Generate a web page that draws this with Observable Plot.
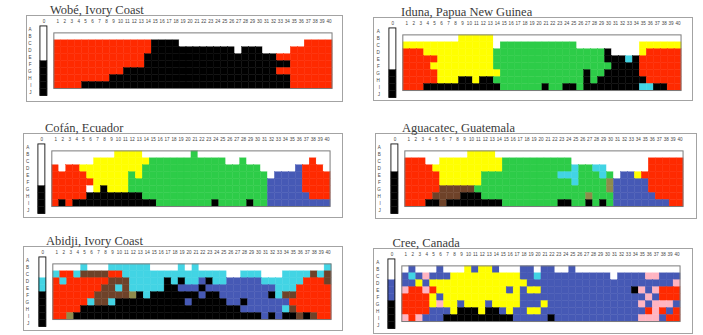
<!DOCTYPE html>
<html>
<head>
<meta charset="utf-8">
<script src="https://cdn.jsdelivr.net/npm/d3@7"></script>
<script src="https://cdn.jsdelivr.net/npm/@observablehq/plot@0.6"></script>
<style>
  body { margin: 0; background: #fff; }
  #chart { position: relative; width: 703px; height: 335px; overflow: hidden; background: #fff; }
  .box { position: absolute; box-sizing: border-box; border: 1px solid #a3a3a3; }
  .box svg { position: absolute; left: -1px; top: -1px; overflow: visible; }
  .title { position: absolute; font-family: "Liberation Serif", "Times New Roman", serif; font-size: 12.5px;
           line-height: 12.5px; color: #3a3a3a; white-space: nowrap; }
</style>
</head>
<body>
<div id="chart"></div>
<script>
// Munsell array: rows A–J, columns 0 (achromatic) and 1–40 (hue columns).
const rowLetters = ["A", "B", "C", "D", "E", "F", "G", "H", "I", "J"];
const hueColumns = ["1","2","3","4","5","6","7","8","9","10","11","12","13","14","15","16","17","18","19","20",
                    "21","22","23","24","25","26","27","28","29","30","31","32","33","34","35","36","37","38","39","40"];

// Category codes: W white, K black, R red, Y yellow, G green, B blue, C cyan (grue), N brown, O olive, P pink.
// Each chromatic row (B..I) is run-length encoded over the 40 hue columns.
const wobeTitle = "Wobé, Ivory Coast";
const wobeRows = ["40W", "14R 4K 18W 4R", "14R 12K 1W 3K 4W 6R", "13R 19K 8R",
                  "13R 21K 6R", "10R 22K 8R", "8R 26K 6R", "4R 30K 6R"];
const wobeAchromatic = "5W 5K";

const idunaTitle = "Iduna, Papua New Guinea";
const idunaRows = ["8W 5Y 27W", "13Y 1W 11G 9W 6Y", "3R 10Y 16G 1K 4W 1Y 5R", "5R 8Y 16G 3K 1C 1K 6R",
                   "4R 9Y 17G 4K 6R", "5R 9Y 12G 1K 2G 5K 6R", "5R 3Y 2K 1Y 2K 13G 1K 1G 7K 5R",
                   "3R 11K 6G 1K 2G 2K 1G 8K 2C 2K 2R"];
const idunaAchromatic = "6W 4K";

const cofanTitle = "Cofán, Ecuador";
const cofanRows = ["9W 4Y 7W 1G 19W", "6W 8Y 11G 2W 1G 9W 1R 2W", "1R 1W 2R 9Y 17G 5W 1B 3R 1W",
                   "5R 6Y 1G 1Y 18G 1W 4B 4R", "6R 5Y 20G 5B 4R", "5R 1W 1Y 1K 3Y 20G 5B 4R",
                   "5R 8K 18G 6B 3R", "1R 1K 1R 12K 8G 1K 4G 1K 2G 9B"];
const cofanAchromatic = "6W 4K";

const aguacatecTitle = "Aguacatec, Guatemala";
const aguacatecRows = ["9W 4Y 27W", "3R 2W 9Y 10G 11W 5R", "4R 10Y 10G 1C 2G 2C 6W 5R",
                       "5R 6Y 11G 3C 3G 1C 1G 1W 2B 1Y 6R", "5R 6Y 13G 1C 4G 1O 5B 5R",
                       "5R 5N 19G 1O 5B 5R", "4R 4N 3K 15G 1O 3G 6B 4R",
                       "3R 2K 1N 8K 8G 2K 2G 1K 1G 1K 1G 8B 2R"];
const aguacatecAchromatic = "4W 6K";

const abidjiTitle = "Abidji, Ivory Coast";
const abidjiRows = ["4W 1C 3W 6C 4W 1C 1W 1C 18W 1C",
                    "1C 2R 1C 4N 2R 15C 2W 3C 3W 4C 1N 1C 1N",
                    "1R 1C 6R 3N 5C 1K 1C 1K 2C 1B 1K 2C 5B 6C 3R 1N",
                    "7R 2N 1C 1N 5C 2K 3B 1K 10B 3C 5R",
                    "6R 5N 1O 1K 1C 7K 1B 2K 7B 1K 1C 2N 5R",
                    "5R 1C 2N 1C 10K 1B 5K 2B 1K 6B 6R",
                    "4R 23K 6B 1C 1N 5R",
                    "2R 1O 27K 1B 1K 1B 2K 1N 1K 1N 2R"];
const abidjiAchromatic = "3W 2C 5K";

const creeTitle = "Cree, Canada";
const creeRows = ["1W 1B 3W 1B 3W 1Y 1B 2Y 1B 3W 2B 1W 2B 2W 1B 15W",
                  "1B 1C 1B 1P 3B 10Y 2B 1C 10B 1W 4B 2P 3B",
                  "2B 1Y 1B 14Y 21B 1P",
                  "1P 2R 1P 1R 10Y 1B 1Y 1B 2Y 13B 1K 1P 1B 1P 3R",
                  "4R 1Y 1B 11Y 18B 1P 1B 3R",
                  "4R 1Y 1P 2Y 1B 3Y 1B 4Y 3B 1Y 13B 1P 1B 3P 1B",
                  "4R 3B 1Y 3K 1Y 2K 1B 1Y 2B 2Y 15B 1R 1P 1R 1B 1R",
                  "1P 1R 1P 3B 10K 5B 1K 12B 3P 1B 2R"];
const creeAchromatic = "3W 3B 4K";

// Fill colour of each category code.
const palette = {W: "#ffffff", K: "#000000", R: "#ff2a00", Y: "#ffff00", G: "#2dcc48",
                 B: "#4659b5", C: "#42d4e4", N: "#6e4229", O: "#8e8b4b", P: "#ffb4c1"};

// Panel boxes on the page: left, top, width, height, first hue column offset, column width, title offset.
const panels = [
  {title: wobeTitle, rows: wobeRows, achromatic: wobeAchromatic, left: 26, top: 15, width: 317, height: 87, col1: 22.3, colW: 7.3, titleX: 24},
  {title: idunaTitle, rows: idunaRows, achromatic: idunaAchromatic, left: 373, top: 17, width: 320, height: 84, col1: 23.7, colW: 7.33, titleX: 28},
  {title: cofanTitle, rows: cofanRows, achromatic: cofanAchromatic, left: 23, top: 133, width: 320, height: 85, col1: 23, colW: 7.33, titleX: 22},
  {title: aguacatecTitle, rows: aguacatecRows, achromatic: aguacatecAchromatic, left: 375, top: 133, width: 322, height: 86, col1: 22.7, colW: 7.38, titleX: 27},
  {title: abidjiTitle, rows: abidjiRows, achromatic: abidjiAchromatic, left: 23, top: 246, width: 320, height: 85, col1: 23, colW: 7.35, titleX: 23},
  {title: creeTitle, rows: creeRows, achromatic: creeAchromatic, left: 373, top: 248, width: 320, height: 86, col1: 23, colW: 7.33, titleX: 19.5}
];

// Expand a run-length string such as "14R 4K" into a list of codes.
function expand(rle) {
  const out = [];
  for (const [, n, c] of rle.matchAll(/(\d+)([A-Z])/g)) for (let k = 0; k < +n; k++) out.push(c);
  return out;
}

const chart = document.getElementById("chart");
const xDomain = ["0", "gap", ...hueColumns];
const rowTop = 8.5, rowH = 7.45;

for (const p of panels) {
  const cells = [];
  p.rows.forEach((row, i) => expand(row).forEach((code, j) => cells.push({col: hueColumns[j], row: rowLetters[i + 1], code})));
  const achro = expand(p.achromatic).map((code, i) => ({col: "0", row: rowLetters[i], code}));

  const ml = p.col1 - 2 * p.colW;
  const plot = Plot.plot({
    width: p.width,
    height: p.height,
    marginLeft: ml,
    marginRight: p.width - ml - xDomain.length * p.colW,
    marginTop: rowTop,
    marginBottom: p.height - rowTop - rowLetters.length * rowH,
    style: {fontFamily: "'Liberation Sans', Arial, sans-serif", fontSize: "4.6px", color: "#444", background: "transparent"},
    x: {type: "band", domain: xDomain, padding: 0, axis: "top", tickSize: 0, tickPadding: 1.2, label: null,
        tickFormat: d => d === "gap" ? "" : d},
    y: {type: "band", domain: rowLetters, padding: 0, axis: "left", tickSize: 0, tickPadding: 2.6, label: null},
    color: {type: "identity"},
    marks: [
      Plot.cell(cells, {x: "col", y: "row", fill: d => palette[d.code], stroke: d => palette[d.code], strokeWidth: 0.4, inset: 0}),
      Plot.cell(achro, {x: "col", y: "row", fill: d => palette[d.code], stroke: d => palette[d.code], strokeWidth: 0.4, inset: 0})
    ]
  });

  // Outlines of the hue grid (rows B–I) and of the achromatic column (rows A–J).
  const sx = plot.scale("x"), sy = plot.scale("y");
  const svg = d3.select(plot);
  const gx0 = sx.apply("1"), gx1 = sx.apply("40") + sx.bandwidth;
  const gy0 = sy.apply("B"), gy1 = sy.apply("I") + sy.bandwidth;
  svg.append("rect").attr("x", gx0).attr("y", gy0).attr("width", gx1 - gx0).attr("height", gy1 - gy0)
     .attr("fill", "none").attr("stroke", "#7a7a7a").attr("stroke-width", 1);
  const ax0 = sx.apply("0"), ay0 = sy.apply("A"), ay1 = sy.apply("J") + sy.bandwidth;
  svg.append("rect").attr("x", ax0).attr("y", ay0).attr("width", sx.bandwidth).attr("height", ay1 - ay0)
     .attr("fill", "none").attr("stroke", "#111").attr("stroke-width", 0.9);

  const box = document.createElement("div");
  box.className = "box";
  Object.assign(box.style, {left: p.left + "px", top: p.top + "px", width: p.width + "px", height: p.height + "px"});
  box.appendChild(plot);
  chart.appendChild(box);

  const title = document.createElement("div");
  title.className = "title";
  title.textContent = p.title;
  Object.assign(title.style, {left: (p.left + p.titleX) + "px", top: (p.top - 11.5) + "px"});
  chart.appendChild(title);
}
</script>
</body>
</html>
